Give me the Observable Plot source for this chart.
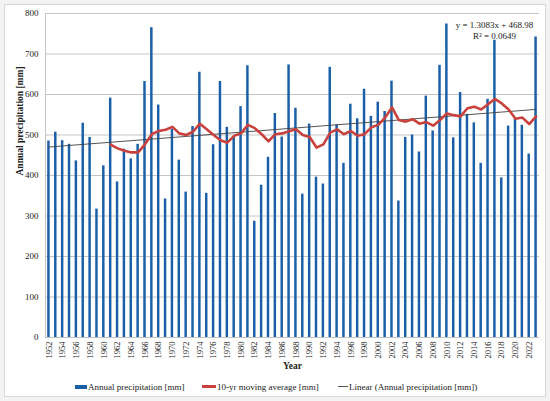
<!DOCTYPE html>
<html>
<head>
<meta charset="utf-8">
<script src="https://cdn.jsdelivr.net/npm/d3@7"></script>
<script src="https://cdn.jsdelivr.net/npm/@observablehq/plot@0.6"></script>
<style>
  html, body { margin: 0; padding: 0; background: #f3f3f3; }
  #wrap { position: relative; width: 550px; height: 401px; overflow: hidden; font-family: 'Liberation Serif', 'DejaVu Serif', serif; }
  #frame { position: absolute; left: 4px; top: 4px; width: 540px; height: 391px; background: #fff; border: 1px solid #d9d9d9; }
  #chart { position: absolute; left: 0; top: 0; }
  .leg { position: absolute; top: 380px; font-size: 9px; color: #222; white-space: nowrap; line-height: 14px; }
  .sw { display: inline-block; vertical-align: middle; margin-right: 1px; position: relative; top: -1px; }
</style>
</head>
<body>
<div id="wrap">
  <div id="frame"></div>
  <div id="chart"></div>
  <div class="leg" style="left:75px"><span class="sw" style="width:12px;height:4px;background:#1a5fa8"></span>Annual precipitation [mm]</div>
  <div class="leg" style="left:202px"><span class="sw" style="width:14px;height:3px;background:#c9413c"></span>10-yr moving average [mm]</div>
  <div class="leg" style="left:338px"><span class="sw" style="width:10px;height:1px;background:#555"></span>Linear (Annual precipitation [mm])</div>
</div>
<script>
const years = [1952,1953,1954,1955,1956,1957,1958,1959,1960,1961,1962,1963,1964,1965,1966,1967,1968,1969,1970,1971,1972,1973,1974,1975,1976,1977,1978,1979,1980,1981,1982,1983,1984,1985,1986,1987,1988,1989,1990,1991,1992,1993,1994,1995,1996,1997,1998,1999,2000,2001,2002,2003,2004,2005,2006,2007,2008,2009,2010,2011,2012,2013,2014,2015,2016,2017,2018,2019,2020,2021,2022,2023];
const precipitation = [485,507,486,477,436,529,494,317,424,591,384,465,441,477,632,765,574,342,514,438,359,521,655,356,476,632,519,496,570,671,287,376,445,553,495,673,566,354,527,396,379,667,525,430,576,540,613,546,581,558,633,337,494,500,458,596,510,672,774,493,605,551,530,430,588,734,394,522,539,524,453,742];
const maStartYear = 1961;
const movingAverage = [476,467,461,457,457,477,502,510,513,520,504,500,508,528,514,500,487,481,498,504,525,517,502,484,502,504,509,514,500,495,469,477,506,514,502,510,498,502,519,525,543,568,537,533,539,528,532,523,537,553,549,546,566,570,563,576,589,578,563,540,543,527,546];
const trendYears = [1952, 2023];
const trendValues = [470.3, 563.2];
const yTicks = [0,100,200,300,400,500,600,700,800];
const xTickYears = years.filter(y => y % 2 === 0);
const equationLines = ["y = 1.3083x + 468.98", "R² = 0.0649"];

const bars = years.map((y, i) => ({year: y, value: precipitation[i]}));
const ma = movingAverage.map((v, i) => ({year: maStartYear + i, value: v}));
const trend = trendYears.map((y, i) => ({year: y, value: trendValues[i]}));

const font = "'Liberation Serif', 'DejaVu Serif', serif";

const chart = Plot.plot({
  width: 550,
  height: 376,
  marginLeft: 45,
  marginRight: 11,
  marginTop: 13,
  marginBottom: 39,
  style: {fontFamily: font, fontSize: "9px", color: "#222", background: "transparent"},
  x: {type: "band", domain: years, paddingInner: 0.64, paddingOuter: 0.32},
  y: {domain: [0, 800]},
  marks: [
    Plot.gridY(yTicks, {stroke: "#c4c4c4", strokeOpacity: 1}),
    Plot.barY(bars, {x: "year", y: "value", fill: "#1a5fa8"}),
    Plot.lineY(trend, {x: "year", y: "value", stroke: "#404040", strokeWidth: 0.9}),
    Plot.lineY(ma, {x: "year", y: "value", stroke: "#c9413c", strokeWidth: 2.6, strokeLinejoin: "round"}),
    Plot.axisY(yTicks, {tickSize: 0, tickPadding: 7, label: null, fontSize: 9}),
    Plot.axisX(xTickYears, {tickSize: 0, tickPadding: 4, tickRotate: -90, label: null, fontSize: 8.5, tickFormat: d => String(d)}),
    Plot.frame({anchor: "left", stroke: "#c4c4c4"}),
    Plot.text(["Annual precipitation [mm]"], {frameAnchor: "left", dx: -26, rotate: -90, fontWeight: "bold", fontSize: 9.5}),
    Plot.text(["Year"], {frameAnchor: "bottom", dy: 31, fontWeight: "bold", fontSize: 9.5}),
    Plot.text([equationLines[0]], {frameAnchor: "top-right", dx: -45, dy: 8, textAnchor: "middle", fontSize: 9}),
    Plot.text([equationLines[1]], {frameAnchor: "top-right", dx: -45, dy: 19, textAnchor: "middle", fontSize: 9})
  ]
});
document.getElementById("chart").appendChild(chart);
</script>
</body>
</html>
